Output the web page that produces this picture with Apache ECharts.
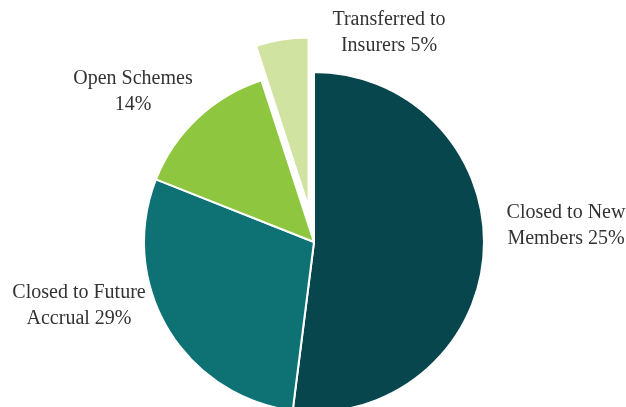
<!DOCTYPE html>
<html>
<head>
<meta charset="utf-8">
<script src="https://cdn.jsdelivr.net/npm/echarts@6/dist/echarts.min.js"></script>
<style>
  html, body { margin: 0; padding: 0; background: #fff; }
  #chart { width: 626px; height: 407px; }
</style>
</head>
<body>
<div id="chart"></div>
<script>
// slice data, clockwise from 12 o'clock
const categories = ['Closed to New\nMembers', 'Closed to Future\nAccrual', 'Open Schemes\n', 'Transferred to\nInsurers'];
const values = [52, 29, 14, 5];
// percentages as printed on the original labels
const labelPct = ['25%', '29%', '14%', '5%'];
const colors = ['#08464e', '#0e7275', '#8fc63f', '#d1e3a0'];
const explodedIndex = 3;

// where each label block is centred
const labelPos = [[566, 226], [79, 306], [133, 92], [389, 33]];

const center = [314, 242];
const explode = 35;

// direction of the exploded slice's bisector (clockwise from 12 o'clock)
const total = values.reduce(function (a, b) { return a + b; }, 0);
let before = 0;
for (let i = 0; i < explodedIndex; i++) before += values[i];
const midDeg = (before + values[explodedIndex] / 2) / total * 360;
const midRad = midDeg * Math.PI / 180;
const center2 = [center[0] + explode * Math.sin(midRad), center[1] - explode * Math.cos(midRad)];

const myChart = echarts.init(document.getElementById('chart'));

function makeSeries(c, showIdx) {
  return {
    type: 'pie',
    center: c,
    radius: 170,
    startAngle: 90,
    clockwise: true,
    silent: true,
    avoidLabelOverlap: false,
    label: {
      show: true,
      position: 'outside',
      alignTo: 'none',
      overflow: 'none',
      align: 'center',
      fontFamily: 'Liberation Serif',
      fontSize: 20,
      lineHeight: 26,
      color: '#333',
      formatter: function (p) {
        const name = p.name;
        return name.endsWith('\n') ? name + labelPct[p.dataIndex] : name + ' ' + labelPct[p.dataIndex];
      },
    },
    labelLine: { show: false },
    labelLayout: function (params) {
      const pos = labelPos[params.dataIndex];
      return { x: pos[0], y: pos[1], align: 'center', verticalAlign: 'middle' };
    },
    data: values.map(function (v, i) {
      const on = showIdx(i);
      return {
        name: categories[i],
        value: v,
        itemStyle: on
          ? { color: colors[i], borderColor: '#fff', borderWidth: 2 }
          : { color: 'transparent', borderWidth: 0 },
        label: { show: on },
      };
    }),
  };
}

const option = {
  backgroundColor: '#fff',
  animation: false,
  series: [
    makeSeries(center, function (i) { return i !== explodedIndex; }),
    makeSeries(center2, function (i) { return i === explodedIndex; }),
  ],
};

myChart.setOption(option);
</script>
</body>
</html>
